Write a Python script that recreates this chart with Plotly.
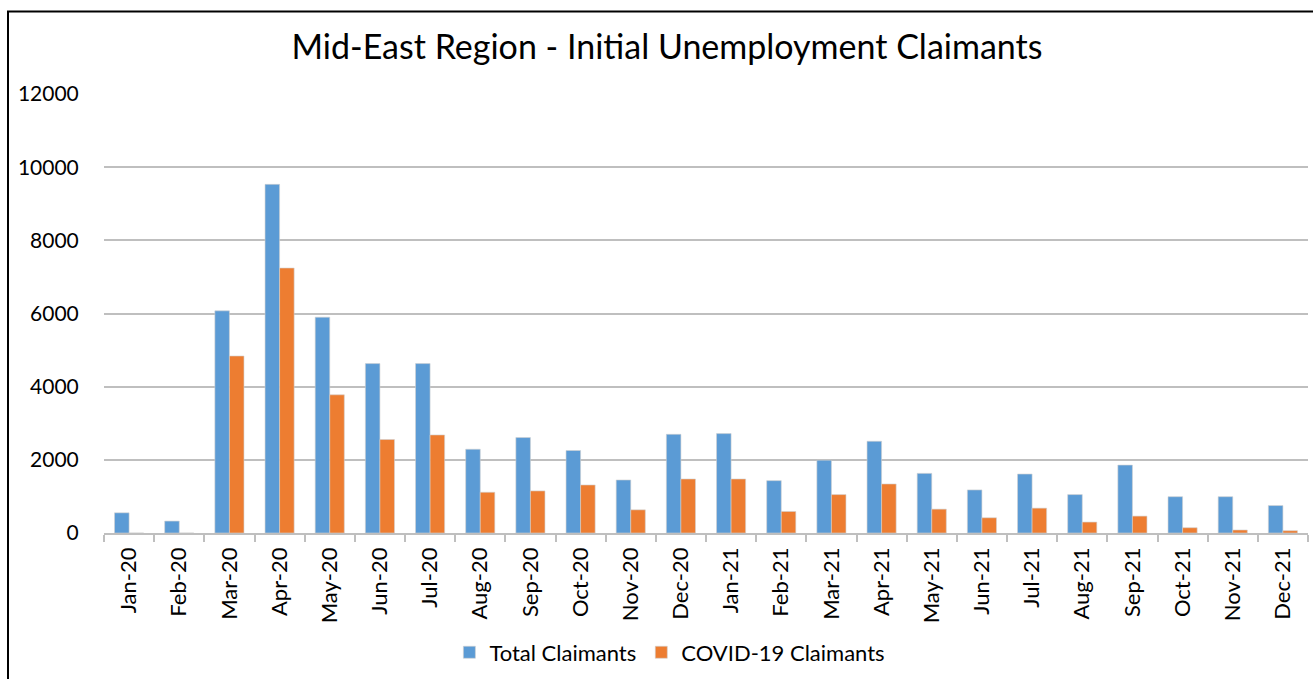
import plotly.graph_objects as go

months = ["Jan-20", "Feb-20", "Mar-20", "Apr-20", "May-20", "Jun-20", "Jul-20", "Aug-20",
          "Sep-20", "Oct-20", "Nov-20", "Dec-20", "Jan-21", "Feb-21", "Mar-21", "Apr-21",
          "May-21", "Jun-21", "Jul-21", "Aug-21", "Sep-21", "Oct-21", "Nov-21", "Dec-21"]
total_claimants = [552, 326, 6073, 9530, 5900, 4631, 4631, 2290, 2609, 2255, 1449, 2698,
                   2717, 1431, 1992, 2508, 1630, 1177, 1612, 1050, 1856, 992, 992, 750]
covid_claimants = [0, 0, 4838, 7243, 3777, 2555, 2680, 1114, 1150, 1313, 633, 1476,
                   1476, 588, 1050, 1340, 652, 416, 679, 299, 462, 144, 82, 63]
y_ticks = [0, 2000, 4000, 6000, 8000, 10000, 12000]

FONT = "Lato"
W, H = 1313, 679
ML, MR, MT, MB = 104, 5, 94, 144
pw, ph = W - ML - MR, H - MT - MB

fig = go.Figure()
fig.add_trace(go.Bar(x=months, y=total_claimants, name="Total Claimants",
                     marker=dict(color="#5B9BD5", line=dict(color="#d0d0d0", width=0.6))))
fig.add_trace(go.Bar(x=months, y=covid_claimants, name="COVID-19 Claimants",
                     marker=dict(color="#ED7D31", line=dict(color="#d0d0d0", width=0.6))))

def px_x(p):
    return (p - ML) / pw

def px_y(p):
    return (H - MB - p) / ph

fig.update_layout(
    width=W, height=H,
    margin=dict(l=ML, r=MR, t=MT, b=MB),
    paper_bgcolor="white", plot_bgcolor="white",
    barmode="group", bargap=0.42, bargroupgap=0,
    font=dict(family=FONT, color="black"),
    title=dict(text="Mid-East Region - Initial Unemployment Claimants",
               font=dict(family=FONT, size=34, color="black"),
               x=667 / W, xanchor="center", xref="container",
               y=1 - 47 / H, yanchor="middle", yref="container"),
    xaxis=dict(type="category", tickangle=-90, tickfont=dict(size=22, family=FONT),
               showgrid=False, showline=True, linecolor="#bfbfbf", linewidth=1.5,
               ticks="outside", tickson="boundaries", ticklen=7, tickcolor="#bfbfbf",
               tickwidth=1.5, range=[-0.5, 23.5], zeroline=False, ticklabelstandoff=4),
    yaxis=dict(range=[0, 12000], tickvals=y_ticks, tickformat="d",
               tickfont=dict(size=21, family=FONT),
               showgrid=True, gridcolor="#bfbfbf", gridwidth=1.5, zeroline=False,
               showline=False, ticks="outside", ticklen=20, tickcolor="rgba(0,0,0,0)"),
    legend=dict(orientation="h", x=0.47, xanchor="center", y=px_y(655), yanchor="middle",
                font=dict(size=22, family=FONT), itemwidth=30, traceorder="normal"),
    shapes=[dict(type="rect", xref="paper", yref="paper",
                 x0=px_x(8), x1=px_x(1330), y0=px_y(700), y1=px_y(11),
                 line=dict(color="black", width=2), fillcolor="rgba(0,0,0,0)", layer="below")],
)

fig.write_html("out.html", config={"displayModeBar": False},
               post_script="document.body.style.margin='0';document.body.style.padding='0';")
